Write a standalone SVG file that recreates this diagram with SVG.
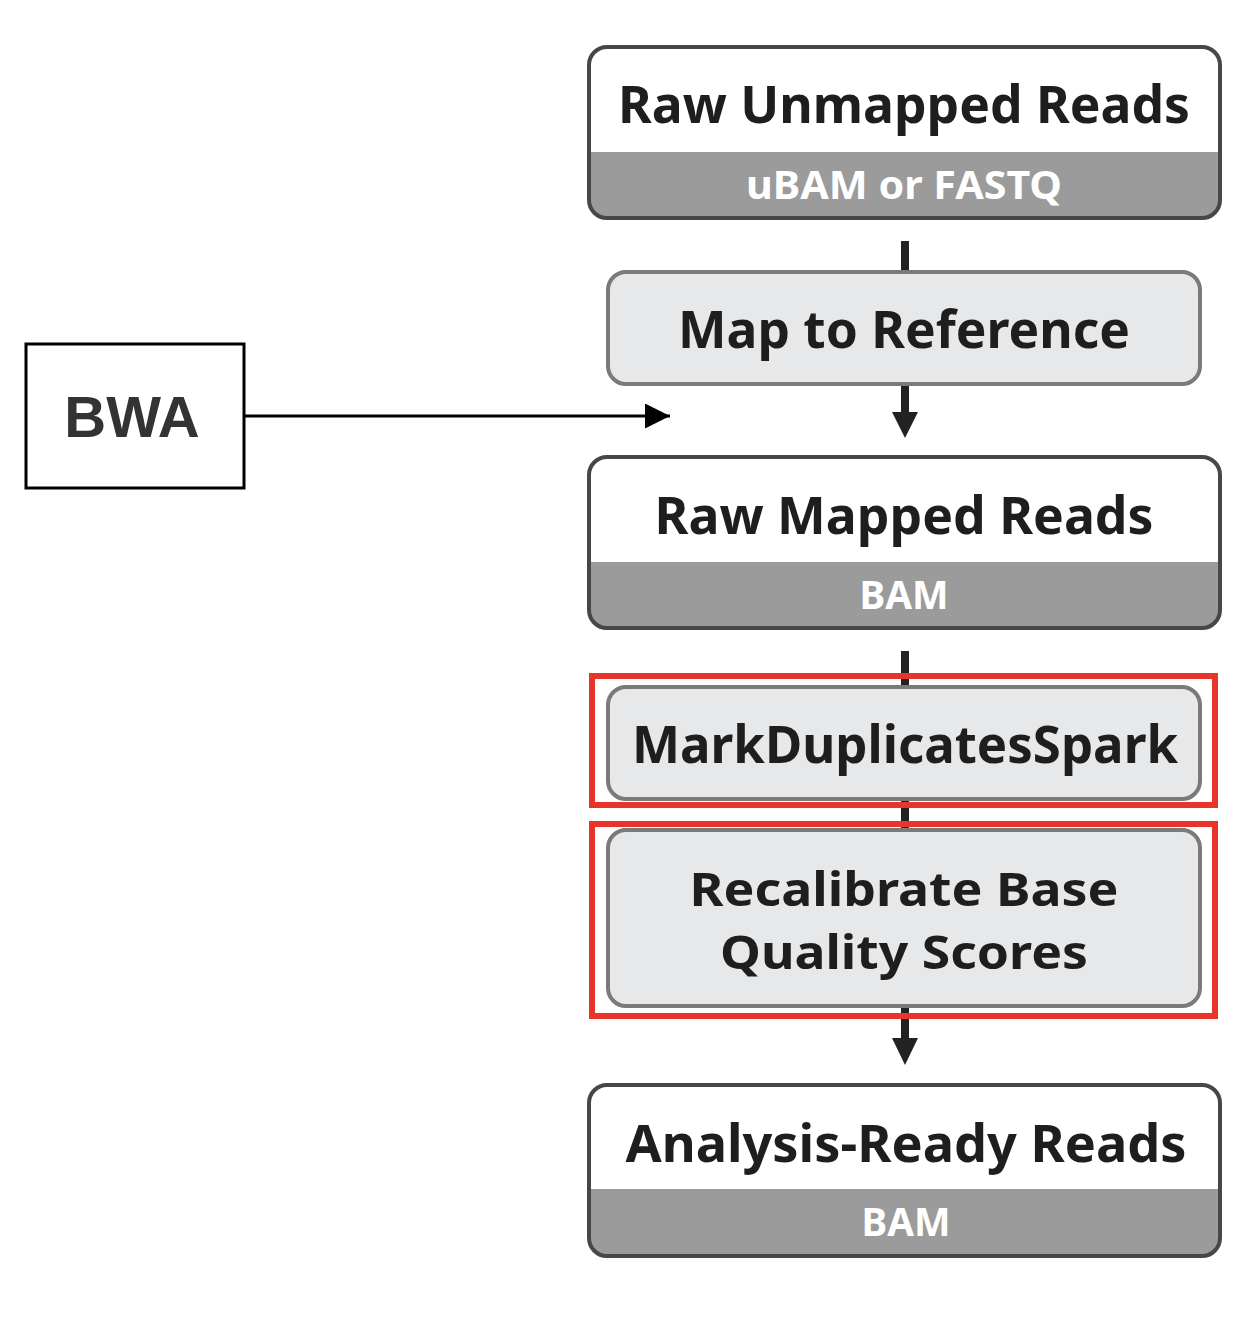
<svg xmlns="http://www.w3.org/2000/svg" width="1240" height="1322" viewBox="0 0 1240 1322">
<defs>
<style>
.data{fill:#ffffff;stroke:#474747;stroke-width:4}
.band{fill:#9b9b9b}
.step{fill:#e7e8ea;stroke:#7a7a7a;stroke-width:4}
.hl{fill:none;stroke:#e8352a;stroke-width:6}
.t{font-family:"Noto Sans","Open Sans",sans-serif;font-weight:bold;fill:#1e1e1e;text-anchor:middle}
.st{font-family:"Noto Sans","Open Sans",sans-serif;font-weight:bold;fill:#ffffff;text-anchor:middle}
.flow{stroke:#222222;stroke-width:8;fill:none}
</style>
<clipPath id="c1"><rect x="589" y="47" width="631" height="171" rx="18"/></clipPath>
<clipPath id="c3"><rect x="589" y="457" width="631" height="171" rx="18"/></clipPath>
<clipPath id="c6"><rect x="589" y="1085" width="631" height="171" rx="18"/></clipPath>
<marker id="ah" viewBox="0 0 10 10" refX="10" refY="5" markerWidth="34" markerHeight="25" markerUnits="userSpaceOnUse" orient="auto"><path d="M0,0 L10,5 L0,10 Z" fill="#000"/></marker>
</defs>
<rect width="1240" height="1322" fill="#ffffff"/>
<g id="connectors">
<line class="flow" x1="905" y1="241" x2="905" y2="274"/>
<line class="flow" x1="905" y1="384" x2="905" y2="414"/>
<polygon points="892,412 918,412 905,438" fill="#222222"/>
<line class="flow" x1="905" y1="651" x2="905" y2="689"/>
<line class="flow" x1="905" y1="799" x2="905" y2="832"/>
<line class="flow" x1="905" y1="1006" x2="905" y2="1040"/>
<polygon points="892,1038 918,1038 905,1065" fill="#222222"/>
<line x1="244" y1="416" x2="670" y2="416" stroke="#000" stroke-width="3" marker-end="url(#ah)"/>
</g>
<g id="raw-unmapped">
<rect x="589" y="47" width="631" height="171" rx="18" fill="#fff"/>
<rect x="589" y="152" width="631" height="66" class="band" clip-path="url(#c1)"/>
<rect class="data" x="589" y="47" width="631" height="171" rx="18" style="fill:none"/>
<text class="t" x="904" y="123" font-size="52" textLength="572" lengthAdjust="spacingAndGlyphs">Raw Unmapped Reads</text>
<text class="st" x="904" y="199" font-size="40" textLength="316" lengthAdjust="spacingAndGlyphs">uBAM or FASTQ</text>
</g>
<g id="map-ref">
<rect class="step" x="608" y="272" width="592" height="112" rx="18"/>
<text class="t" x="904" y="348" font-size="52" textLength="452" lengthAdjust="spacingAndGlyphs">Map to Reference</text>
</g>
<g id="bwa">
<rect x="26" y="344" width="218" height="144" fill="#fff" stroke="#000" stroke-width="3"/>
<text x="132" y="437" font-family="Liberation Sans,Arial,sans-serif" font-weight="bold" font-size="58" fill="#333" text-anchor="middle">BWA</text>
</g>
<g id="raw-mapped">
<rect x="589" y="457" width="631" height="171" rx="18" fill="#fff"/>
<rect x="589" y="562" width="631" height="66" class="band" clip-path="url(#c3)"/>
<rect class="data" x="589" y="457" width="631" height="171" rx="18" style="fill:none"/>
<text class="t" x="904" y="534" font-size="52" textLength="499" lengthAdjust="spacingAndGlyphs">Raw Mapped Reads</text>
<text class="st" x="904" y="609" font-size="40" textLength="89" lengthAdjust="spacingAndGlyphs">BAM</text>
</g>
<g id="markdup">
<rect class="step" x="608" y="687" width="592" height="112" rx="18"/>
<rect class="hl" x="592" y="676" width="623" height="129"/>
<text class="t" x="905" y="763" font-size="52" textLength="546" lengthAdjust="spacingAndGlyphs">MarkDuplicatesSpark</text>
</g>
<g id="bqsr">
<rect class="step" x="608" y="830" width="592" height="176" rx="18"/>
<rect class="hl" x="592" y="824" width="623" height="192"/>
<text class="t" x="904" y="906" font-size="46" textLength="429" lengthAdjust="spacingAndGlyphs">Recalibrate Base</text>
<text class="t" x="904" y="969" font-size="46" textLength="368" lengthAdjust="spacingAndGlyphs">Quality Scores</text>
</g>
<g id="analysis-ready">
<rect x="589" y="1085" width="631" height="171" rx="18" fill="#fff"/>
<rect x="589" y="1189" width="631" height="67" class="band" clip-path="url(#c6)"/>
<rect class="data" x="589" y="1085" width="631" height="171" rx="18" style="fill:none"/>
<text class="t" x="906" y="1162" font-size="52" textLength="561" lengthAdjust="spacingAndGlyphs">Analysis-Ready Reads</text>
<text class="st" x="906" y="1236" font-size="40" textLength="89" lengthAdjust="spacingAndGlyphs">BAM</text>
</g>
</svg>
